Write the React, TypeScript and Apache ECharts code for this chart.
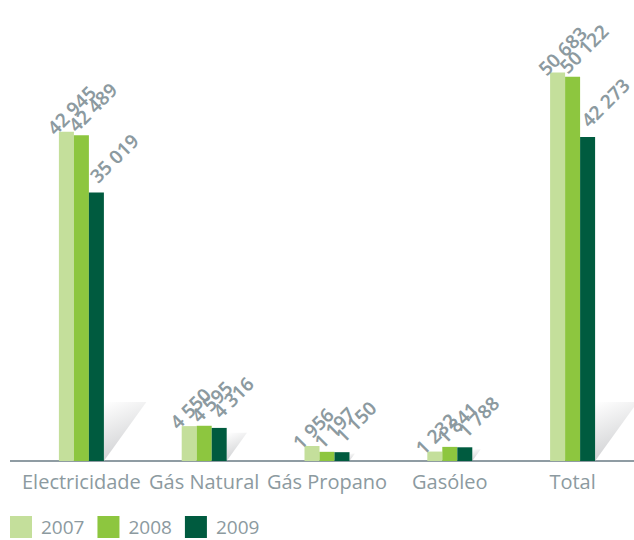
import React, { useEffect, useRef } from "react";
import * as echarts from "echarts";

const categories = ["Electricidade", "Gás Natural", "Gás Propano", "Gasóleo", "Total"];
const years = ["2007", "2008", "2009"];
const v2007 = [42945, 4550, 1956, 1232, 50683];
const v2008 = [42489, 4595, 1197, 1841, 50122];
const v2009 = [35019, 4316, 1150, 1788, 42273];

const COLORS = ["#c4df9b", "#8dc63f", "#005b3f"];
const LABEL_SHIFT = [-13, -4, 5];
const LABEL_GRAY = "#8c9aa0";
const AXIS_GRAY = "#8f9ca3";
const BAR_W = 15;

const fmt = (v: number) => String(v).replace(/\B(?=(\d{3})+(?!\d))/g, " ");

export default function App() {
  const ref = useRef<HTMLDivElement>(null);
  useEffect(() => {
    if (!ref.current) return;
    const chart = echarts.init(ref.current, undefined, { renderer: "svg" });
    const barSeries = [v2007, v2008, v2009].map((vals, i) => ({
      name: years[i],
      type: "bar",
      data: vals,
      barWidth: BAR_W,
      barGap: "0%",
      z: 3,
      itemStyle: { color: COLORS[i] },
      label: {
        show: true,
        position: "top",
        rotate: 45,
        align: "left",
        verticalAlign: "bottom",
        distance: 3,
        offset: [LABEL_SHIFT[i], 0],
        formatter: (p: any) => fmt(p.value),
        color: LABEL_GRAY,
        fontFamily: "Noto Sans",
        fontWeight: 600,
        fontSize: 19,
      },
    }));
    const shadowSeries = {
      type: "custom",
      silent: true,
      z: 1,
      data: v2009.map((v, i) => [i, v]),
      encode: { x: 0, y: 1 },
      renderItem: (params: any, api: any) => {
        const idx = api.value(0);
        const v = api.value(1);
        const top = api.coord([idx, v]);
        const base = api.coord([idx, 0]);
        const h = Math.min((base[1] - top[1]) * 0.85, 59);
        const w = h * 0.72;
        const xr = base[0] + 1.5 * BAR_W;
        return {
          type: "polygon",
          shape: {
            points: [
              [xr, base[1]],
              [xr, base[1] - h],
              [xr + w, base[1] - h],
            ],
          },
          style: {
            fill: new echarts.graphic.LinearGradient(0, 0, 0.3, 1, [
              { offset: 0, color: "#ffffff" },
              { offset: 1, color: "#cfd0d2" },
            ]),
          },
        };
      },
    };
    chart.setOption({
      animation: false,
      backgroundColor: "#ffffff",
      textStyle: { fontFamily: "Open Sans" },
      grid: { left: 20, top: 1, width: 617, height: 460, containLabel: false },
      legend: {
        data: years,
        left: 10,
        top: 516,
        padding: 0,
        itemWidth: 22,
        itemHeight: 22,
        itemGap: 13,
        icon: "rect",
        textStyle: {
          color: LABEL_GRAY,
          fontSize: 19,
          lineHeight: 18,
          fontFamily: "Open Sans",
          padding: [0, 0, 0, 4],
        },
      },
      xAxis: {
        type: "category",
        data: categories,
        axisLine: { show: true, lineStyle: { color: AXIS_GRAY, width: 2 } },
        axisTick: { show: false },
        axisLabel: {
          color: LABEL_GRAY,
          fontSize: 20,
          fontFamily: "Open Sans",
          margin: 10,
          interval: 0,
        },
      },
      yAxis: {
        type: "value",
        min: 0,
        max: 60000,
        show: false,
        splitLine: { show: false },
      },
      graphic: [
        {
          type: "line",
          shape: { x1: 10, y1: 461, x2: 22, y2: 461 },
          style: { stroke: AXIS_GRAY, lineWidth: 2 },
        },
      ],
      series: [shadowSeries, ...barSeries],
    });
    return () => chart.dispose();
  }, []);
  return <div ref={ref} style={{ position: "fixed", left: 0, top: 0, width: 634, height: 540 }} />;
}
